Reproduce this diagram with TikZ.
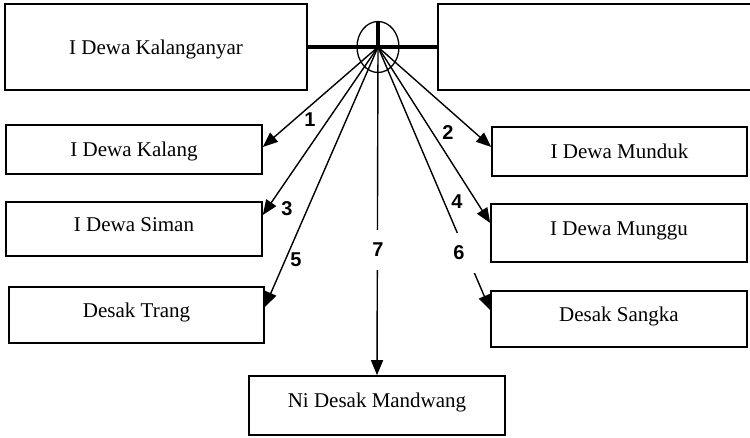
\documentclass[tikz,border=0pt]{standalone}
\usepackage{fontspec}
\setmainfont{Liberation Serif}
\newfontfamily\numfont{Liberation Sans}
\usetikzlibrary{arrows.meta,shapes.geometric}

\tikzset{
  box/.style={draw,line width=1.6pt,minimum width=256pt,minimum height=#1,
    inner sep=0pt,text height=14pt,text depth=0pt},
  raised/.style={text depth=10pt},
  arr/.style={line width=1.4pt,-{Triangle[length=15pt,width=12pt]}},
  num/.style={font=\numfont\bfseries\fontsize{20}{22}\selectfont,inner sep=1pt},
  gap/.style={num,fill=white,minimum width=22pt,minimum height=40pt}
}

\begin{document}
\begin{tikzpicture}[x=1pt,y=-1pt,font=\fontsize{21}{25}\selectfont]
\useasboundingbox (0,0) rectangle (750,437);
\clip (0,0) rectangle (750,437);

% parents
\node[box=86pt,minimum width=302pt] (kalanganyar) at (156,47) {I Dewa Kalanganyar};
\node[box=86pt,minimum width=322pt] (wife) at (599,47) {};
\node[draw,ellipse,line width=1.3pt,minimum width=42pt,minimum height=51pt,inner sep=0pt] (ring) at (378,47) {};
\draw[line width=3.5pt] (kalanganyar.east) -- (wife.west);
\draw[line width=3.5pt] (ring.north) -- (ring.center);

% children
\node[box=49pt] (kalang) at (134,149.5) {I Dewa Kalang};
\node[box=54pt,raised] (siman) at (134,229) {I Dewa Siman};
\node[box=56pt,raised,minimum width=255pt] (trang) at (136.5,315) {Desak Trang};
\node[box=49pt,minimum width=255pt] (munduk) at (619.5,151.5) {I Dewa Munduk};
\node[box=58pt,raised] (munggu) at (619,233) {I Dewa Munggu};
\node[box=56pt,raised] (sangka) at (619,319) {Desak Sangka};
\node[box=59pt,raised] (mandwang) at (377,405.5) {Ni Desak Mandwang};

\foreach \c/\s in {kalang/2.5,siman/14,trang/8}
  \draw[arr] (ring.center) -- ([yshift=\s pt]\c.east);
\foreach \c/\s in {munduk/4.5,munggu/10,sangka/9}
  \draw[arr] (ring.center) -- ([yshift=\s pt]\c.west);
\draw[arr] (ring.center) -- (mandwang.north);

% numbers
\node[num] (n1) at (310,120) {1};
\node[num] (n2) at (448,133) {2};
\node[num] (n3) at (287,209) {3};
\node[num] (n4) at (457,202) {4};
\node[num] (n5) at (296,260) {5};
\node[gap] (n7) at (378,250) {7};
\node[gap,minimum width=34pt] (n6) at (459,253) {6};

\end{tikzpicture}
\end{document}
